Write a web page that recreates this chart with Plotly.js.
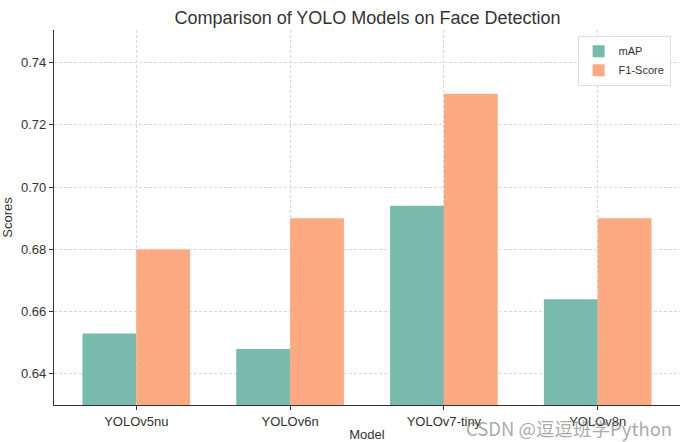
<!DOCTYPE html>
<html><head><meta charset="utf-8">
<script src="https://cdn.plot.ly/plotly-3.0.1.min.js"></script>
<style>html,body{margin:0;padding:0;background:#fff}#chart{width:687px;height:442px}</style>
</head><body><div id="chart"></div>
<script>
const models = ["YOLOv5nu", "YOLOv6n", "YOLOv7-tiny", "YOLOv8n"];
const mapScores = [0.653, 0.648, 0.694, 0.664];
const f1Scores = [0.68, 0.69, 0.73, 0.69];
const yTicks = [0.64, 0.66, 0.68, 0.70, 0.72, 0.74];
const yTickLabels = ["0.64", "0.66", "0.68", "0.70", "0.72", "0.74"];

const data = [
  {type:'bar', name:'mAP', x: models, y: mapScores, marker:{color:'#78baac'}, offsetgroup:'a'},
  {type:'bar', name:'F1-Score', x: models, y: f1Scores, marker:{color:'#fdaa82'}, offsetgroup:'b'}
];
const layout = {
  width:687, height:442,
  margin:{l:54, r:7, t:30, b:37},
  paper_bgcolor:'#fff', plot_bgcolor:'#fff',
  font:{family:'Liberation Sans, Arial, sans-serif', color:'#333'},
  title:{text:'Comparison of YOLO Models on Face Detection', x:0.535, xanchor:'center', y:0.975, yanchor:'top', font:{size:18, color:'#333'}},
  bargap:0.3, bargroupgap:0,
  showlegend:true,
  legend:{x:0.985, xanchor:'right', y:0.985, yanchor:'top', bgcolor:'rgba(255,255,255,0.85)', bordercolor:'#ddd', borderwidth:1, font:{size:11, color:'#333'}},
  xaxis:{
    range:[-0.535, 3.535], showgrid:true, gridcolor:'#d8d8d8', griddash:'3px,2px', gridwidth:0.7,
    showline:true, linecolor:'#333', linewidth:1.3, ticks:'outside', ticklen:4, tickcolor:'#333',
    tickfont:{size:13, color:'#333'},
    title:{text:'Model', font:{size:13, color:'#333'}, standoff:2}
  },
  yaxis:{
    range:[0.63, 0.7505], tickvals:yTicks, ticktext:yTickLabels, showgrid:true, gridcolor:'#d8d8d8', griddash:'3px,2px', gridwidth:0.7,
    showline:true, linecolor:'#333', linewidth:1.3, ticks:'outside', ticklen:4, tickcolor:'#333', zeroline:false,
    tickfont:{size:13, color:'#333'},
    title:{text:'Scores', font:{size:13, color:'#333'}, standoff:6}
  },
  annotations:[{
    text:'CSDN @逗逗班学Python', xref:'paper', yref:'paper', x:0.99, y:-0.06, xanchor:'right', yanchor:'middle',
    showarrow:false, font:{size:18.5, color:'rgba(130,130,130,0.7)', family:'Noto Sans CJK SC, Liberation Sans, sans-serif'}
  }]
};
Plotly.newPlot('chart', data, layout, {displayModeBar:false});
</script></body></html>
